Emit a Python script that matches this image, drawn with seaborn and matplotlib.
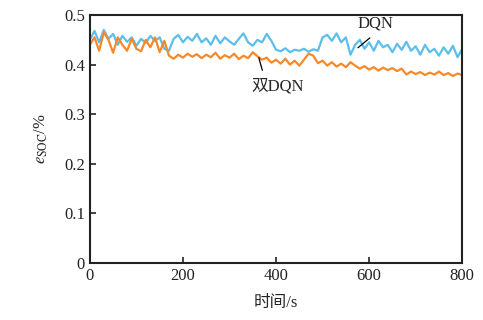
import numpy as np
import pandas as pd
import matplotlib
matplotlib.use("Agg")
import matplotlib.pyplot as plt
import seaborn as sns

# time axis, one sample every 10 s
t = np.arange(0, 810, 10)

dqn = [0.450, 0.468, 0.445, 0.470, 0.452, 0.462, 0.440, 0.458, 0.446, 0.455,
       0.438, 0.452, 0.444, 0.458, 0.448, 0.455, 0.432, 0.428, 0.452, 0.460,
       0.445, 0.456, 0.448, 0.462, 0.445, 0.453, 0.440, 0.458, 0.443, 0.455,
       0.447, 0.440, 0.452, 0.463, 0.445, 0.438, 0.450, 0.445, 0.462, 0.448,
       0.430, 0.427, 0.433, 0.425, 0.430, 0.428, 0.432, 0.426, 0.431, 0.428,
       0.455, 0.460, 0.448, 0.463, 0.445, 0.455, 0.420, 0.440, 0.450, 0.432,
       0.445, 0.428, 0.448, 0.435, 0.440, 0.425, 0.442, 0.430, 0.446, 0.428,
       0.437, 0.420, 0.440, 0.425, 0.432, 0.418, 0.435, 0.422, 0.438, 0.415,
       0.432]

double_dqn = [0.440, 0.455, 0.428, 0.465, 0.450, 0.424, 0.455, 0.440, 0.428, 0.452,
              0.432, 0.427, 0.450, 0.435, 0.455, 0.425, 0.448, 0.418, 0.412, 0.420,
              0.414, 0.422, 0.416, 0.421, 0.413, 0.420, 0.415, 0.424, 0.412, 0.419,
              0.414, 0.422, 0.411, 0.418, 0.413, 0.425, 0.417, 0.410, 0.414, 0.404,
              0.410, 0.402, 0.412, 0.400, 0.408, 0.398, 0.410, 0.422, 0.418, 0.403,
              0.408, 0.398, 0.405, 0.396, 0.402, 0.395, 0.405, 0.398, 0.392, 0.397,
              0.390, 0.395, 0.388, 0.394, 0.389, 0.393, 0.387, 0.392, 0.380, 0.386,
              0.381, 0.385, 0.379, 0.384, 0.380, 0.386, 0.379, 0.383, 0.377, 0.382,
              0.379]

xticks = [0, 200, 400, 600, 800]
yticks = [0, 0.1, 0.2, 0.3, 0.4, 0.5]

sns.set_style("ticks")
plt.rcParams['font.family'] = ['Liberation Serif', 'Noto Sans CJK SC', 'DejaVu Sans']
plt.rcParams['mathtext.fontset'] = 'stix'

fig = plt.figure(figsize=(4.83, 3.2), dpi=100)
ax = fig.add_axes([0.186, 0.178, 0.771, 0.775])

sns.lineplot(x=t, y=dqn, ax=ax, color='#5bbfea', lw=1.6)
sns.lineplot(x=t, y=double_dqn, ax=ax, color='#f5892a', lw=1.6)

ax.set_xlim(0, 800)
ax.set_ylim(0, 0.5)
ax.set_xticks(xticks)
ax.set_yticks(yticks)
ax.set_yticklabels(['0', '0.1', '0.2', '0.3', '0.4', '0.5'])
ax.tick_params(direction='in', length=4, width=1.2, labelsize=12, colors='#222222')
for s in ax.spines.values():
    s.set_visible(True)
    s.set_linewidth(1.5)
    s.set_color('#222222')

ax.set_xlabel('时间/s', fontsize=12, labelpad=8)
ax.set_ylabel(r'$e_{\rm SOC}$/%', fontsize=12, labelpad=10)

# annotations
ax.annotate('DQN', xy=(576, 0.434), xytext=(613, 0.482), fontsize=12,
            ha='center', va='center',
            arrowprops=dict(arrowstyle='-', color='black', lw=0.9,
                            relpos=(0.55, 0.0), shrinkA=3, shrinkB=0))
ax.annotate('双DQN', xy=(363, 0.414), xytext=(404, 0.355), fontsize=12,
            ha='center', va='center',
            arrowprops=dict(arrowstyle='-', color='black', lw=0.9,
                            relpos=(0.25, 1.0), shrinkA=4, shrinkB=0))

fig.savefig('out.png', dpi=100)
